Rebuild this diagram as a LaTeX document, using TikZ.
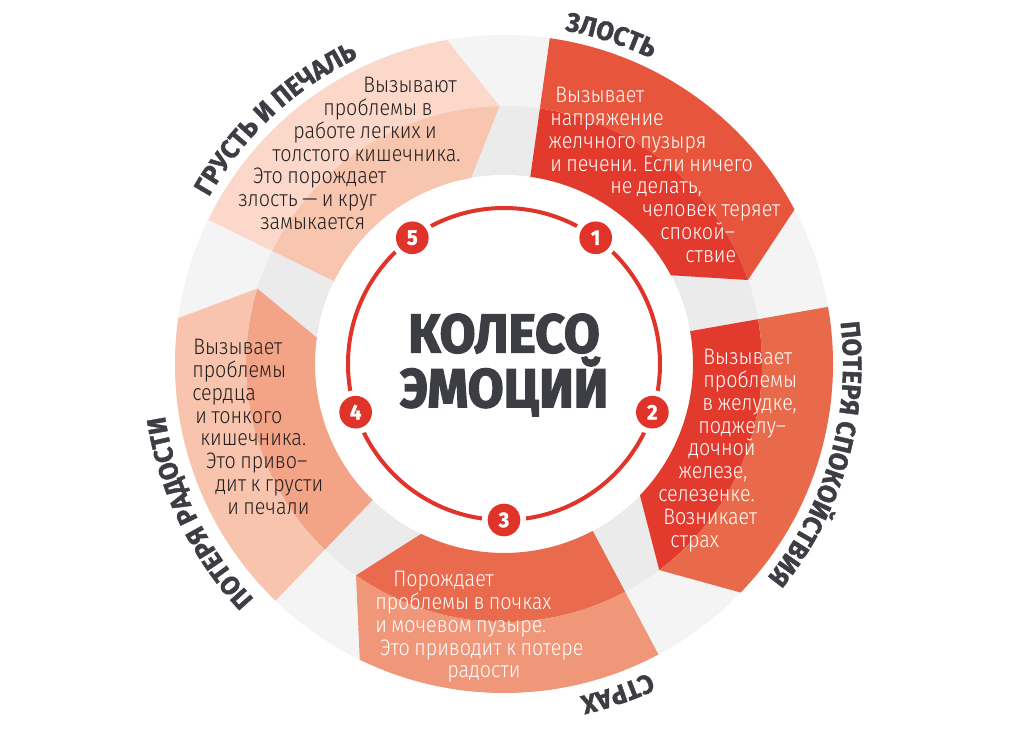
\documentclass[tikz,border=0pt]{standalone}
\usepackage{fontspec}
\setmainfont{Fira Sans}
\newfontfamily\bodyfont[FakeStretch=0.88,WordSpace=0.8]{Fira Sans Light}
\newfontfamily\lblfont[FakeStretch=0.95,FakeBold=1.4]{Fira Sans}
\newfontfamily\ttlfont[FakeStretch=0.95,FakeBold=2.5]{Fira Sans}
\usetikzlibrary{decorations.text}
\definecolor{ringin}{HTML}{EBEBEB}
\definecolor{ringout}{HTML}{F4F4F4}
\definecolor{wred}{HTML}{E0332A}
\definecolor{lblgray}{HTML}{3C3E44}
\definecolor{darktext}{HTML}{231F20}
\definecolor{sAin}{HTML}{E23A2C}
\definecolor{sAout}{HTML}{E6553C}
\definecolor{sBin}{HTML}{E23B2D}
\definecolor{sBout}{HTML}{E96A4B}
\definecolor{sCin}{HTML}{E96A4C}
\definecolor{sCout}{HTML}{F0977A}
\definecolor{sDin}{HTML}{F3A386}
\definecolor{sDout}{HTML}{F8C4AD}
\definecolor{sEin}{HTML}{F8C5AF}
\definecolor{sEout}{HTML}{FBD8C9}
\newdimen\pxu \pxu=0.75pt
\newcommand\myind[1]{\hspace*{#1\pxu}}
\newcommand\lblstyle{\lblfont\bfseries\fontsize{20}{20}\selectfont}
\newcommand\drawseg[3]{%
  \pgfmathsetmacro\segC{#1-54}\pgfmathsetmacro\segP{#1-63}%
  \fill[#2] (#1:189) arc[start angle=#1, end angle=\segC, radius=189] -- (\segP:258) arc[start angle=\segP, end angle=#1, radius=258] -- cycle;
  \fill[#3] (#1:258) -- (#1:329) arc[start angle=#1, end angle=\segC, radius=329] -- (\segP:258) arc[start angle=\segP, end angle=#1, radius=258] -- cycle;
}
\newcommand\arclabel[3]{% center angle, radius, text
  \pgfmathsetmacro\lblS{#1+35}\pgfmathsetmacro\lblE{#1-35}%
  \path[decorate, decoration={text along path, text align=center, text color=lblgray, text={|\lblstyle|#3}}] (\lblS:#2) arc[start angle=\lblS, end angle=\lblE, radius=#2];
}
\tikzset{
  segtext/.style={anchor=north west, inner sep=0pt, align=left, font=\bodyfont\fontsize{16.8}{17.1}\selectfont},
  marker/.style={circle, fill=wred, text=white, minimum size=24.5pt, inner sep=0pt, font=\lblfont\bfseries\fontsize{16}{16}\selectfont},
}
\begin{document}
\begin{tikzpicture}[x=0.75pt, y=0.75pt]
\useasboundingbox (-504,-373) rectangle (513,364);
\fill[white] (-504,-373) rectangle (513,364);
% ring
\fill[ringout] (0,0) circle (329);
\fill[ringin] (0,0) circle (258);
\fill[white] (0,0) circle (189);
% segments
\drawseg{82}{sAin}{sAout}
\drawseg{10}{sBin}{sBout}
\drawseg{-62}{sCin}{sCout}
\drawseg{-134}{sDin}{sDout}
\drawseg{154}{sEin}{sEout}
% inner red circle with markers
\draw[wred, line width=3pt] (0,0) circle (156);
\foreach \a/\n in {54/1,-18/2,-90/3,198/4,126/5}{
  \fill[white] (\a:156) circle (22);
  \node[marker] (m\n) at (\a:156) {\n};
}
% title
\node[align=center, text=lblgray, inner sep=0pt, font=\ttlfont\bfseries\fontsize{41}{41}\selectfont] (title) at (0,-1) {КОЛЕСО\\ЭМОЦИЙ};
% segment texts
\node[segtext, text=white] (t1) at (44,277) {\myind{7}Вызывает\\\myind{2}напряжение\\желчного пузыря\\\myind{2}и печени. Если ничего\\\myind{62}не делать,\\\myind{94}человек теряет\\\myind{112}спокой–\\\myind{137}ствие};
\node[segtext, text=white] (t2) at (154,15) {\myind{45}Вызывает\\\myind{45}проблемы\\\myind{44}в желудке,\\\myind{40}поджелу–\\\myind{30}дочной\\\myind{20}железе,\\селезенке.\\\myind{5}Возникает\\\myind{12}страх};
\node[segtext, text=white] (t3) at (-129,-207) {\myind{18}Порождает\\проблемы в почках\\и мочевом пузыре.\\\myind{5}Это приводит к потере\\\myind{72}радости};
\node[segtext, text=darktext] (t4) at (-312,25) {\myind{1}Вызывает\\проблемы\\сердца\\\myind{3}и тонкого\\\myind{8}кишечника.\\\myind{14}Это приво–\\\myind{23}дит к грусти\\\myind{35}и печали};
\node[segtext, text=darktext] (t5) at (-266,287) {\myind{125}Вызывают\\\myind{85}проблемы в\\\myind{55}работе легких и\\\myind{34}толстого кишечника.\\\myind{15}Это порождает\\злость — и круг\\\myind{22}замыкается};
% outer labels
\arclabel{72}{339}{ЗЛОСТЬ}
\arclabel{133}{339}{ГРУСТЬ И ПЕЧАЛЬ}
\arclabel{-16}{339}{ПОТЕРЯ СПОКОЙСТВИЯ}
\arclabel{-71}{341}{СТРАХ}
\arclabel{206}{343}{ПОТЕРЯ РАДОСТИ}
\end{tikzpicture}
\end{document}
